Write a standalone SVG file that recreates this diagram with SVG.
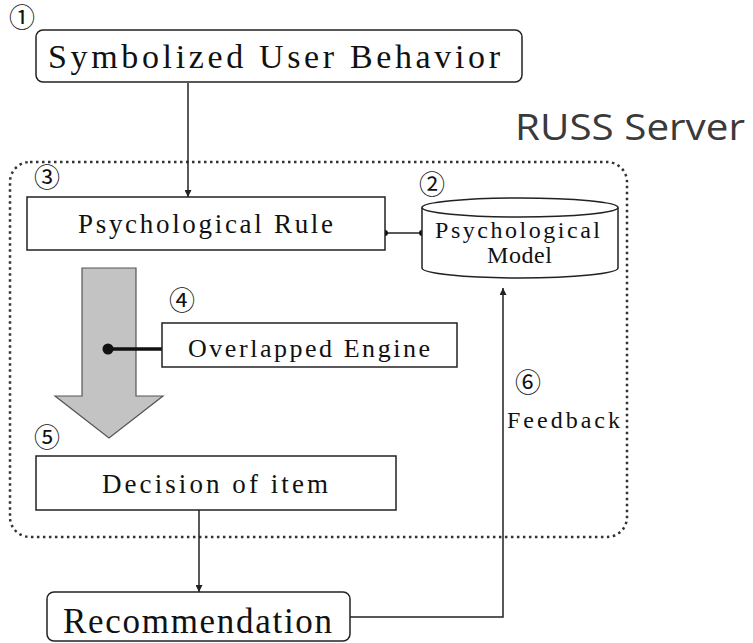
<svg xmlns="http://www.w3.org/2000/svg" width="753" height="643" viewBox="0 0 753 643">
  <style>
    .box { fill: #fff; stroke: #222; stroke-width: 1.5; }
    .mono { font-family: "Liberation Serif", "DejaVu Serif", serif; fill: #111; }
    .num { font-family: "Noto Sans CJK KR", "DejaVu Sans", sans-serif; font-size: 26px; fill: #111; text-anchor: middle; }
    .line { fill: none; stroke: #222; stroke-width: 1.5; }
  </style>
  <defs>
    <marker id="arrow" viewBox="0 0 10 10" refX="10" refY="5" markerWidth="7" markerHeight="7" orient="auto" markerUnits="userSpaceOnUse">
      <path d="M0,0 L10,5 L0,10 z" fill="#222"/>
    </marker>
  </defs>
  <rect width="753" height="643" fill="#fff"/>

  <!-- server boundary -->
  <g id="server">
    <rect x="10" y="162" width="617" height="375" rx="20" fill="none" stroke="#333" stroke-width="2.5" stroke-dasharray="2.5 3.5"/>
    <text x="515" y="140" font-family="Open Sans, Liberation Sans, sans-serif" font-size="37" fill="#3a3a3a" textLength="230" lengthAdjust="spacingAndGlyphs">RUSS Server</text>
  </g>

  <!-- big flow arrow -->
  <g id="flow-arrow">
    <path d="M82,268 L136,268 L136,396 L163,396 L109,438 L55,396 L82,396 Z" fill="#c3c3c3" stroke="#555" stroke-width="1.2"/>
  </g>

  <!-- connectors -->
  <g id="connectors">
    <line class="line" x1="188" y1="83" x2="188" y2="197" marker-end="url(#arrow)"/>
    <line class="line" x1="385" y1="233" x2="422" y2="233"/>
    <circle cx="385" cy="233" r="3" fill="#111"/>
    <circle cx="422" cy="233" r="3" fill="#111"/>
    <line class="line" x1="199" y1="510" x2="199" y2="592" marker-end="url(#arrow)"/>
    <polyline class="line" points="350,617 503,617 503,288" marker-end="url(#arrow)"/>
    <line x1="108" y1="349" x2="162" y2="349" stroke="#111" stroke-width="3.5"/>
    <circle cx="108" cy="349" r="5.5" fill="#111"/>
  </g>

  <g id="n1">
    <text class="num" x="22" y="27" font-size="23">①</text>
    <rect class="box" x="36" y="30" width="486" height="52" rx="7"/>
    <text class="mono" x="48" y="68" font-size="34" textLength="452" lengthAdjust="spacing">Symbolized User Behavior</text>
  </g>

  <g id="n3">
    <text class="num" x="47" y="187">③</text>
    <rect class="box" x="27" y="197" width="358" height="53"/>
    <text class="mono" x="78" y="233" font-size="27" textLength="255" lengthAdjust="spacing">Psychological Rule</text>
  </g>

  <g id="n2">
    <text class="num" x="432" y="194">②</text>
    <path class="box" d="M422,207.5 L422,268 A98,10 0 0 0 618,268 L618,207.5"/>
    <ellipse class="box" cx="520" cy="207.5" rx="98" ry="9.5"/>
    <text class="mono" x="435" y="238" font-size="24" textLength="165" lengthAdjust="spacing">Psychological</text>
    <text class="mono" x="487" y="263" font-size="24" textLength="65" lengthAdjust="spacing">Model</text>
  </g>

  <g id="n4">
    <text class="num" x="182" y="310">④</text>
    <rect class="box" x="162" y="323" width="295" height="44"/>
    <text class="mono" x="188" y="357" font-size="26" textLength="242" lengthAdjust="spacing">Overlapped Engine</text>
  </g>

  <g id="n5">
    <text class="num" x="47" y="447">⑤</text>
    <rect class="box" x="36" y="456" width="360" height="54"/>
    <text class="mono" x="102" y="493" font-size="27" textLength="226" lengthAdjust="spacing">Decision of item</text>
  </g>

  <g id="n6">
    <text class="num" x="528" y="392">⑥</text>
    <text class="mono" x="507" y="428" font-size="24" textLength="113" lengthAdjust="spacing">Feedback</text>
  </g>

  <g id="recommendation">
    <rect class="box" x="47" y="592" width="303" height="49" rx="7"/>
    <text class="mono" x="63" y="633" font-size="35" textLength="269" lengthAdjust="spacing">Recommendation</text>
  </g>
</svg>
